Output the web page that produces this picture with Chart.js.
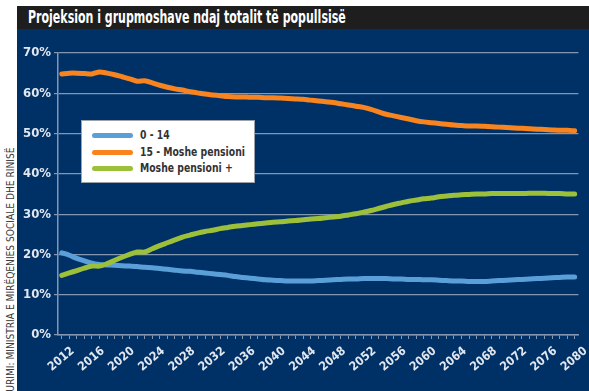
<!DOCTYPE html>
<html>
<head>
<meta charset="utf-8">
<script src="https://cdn.jsdelivr.net/npm/chart.js@4"></script>
<style>
  html, body { margin: 0; padding: 0; background: #fff; }
  #wrap { position: relative; width: 589px; height: 391px; overflow: hidden; background: #fff; }
  #titlebar {
    position: absolute; left: 17px; top: 6px; width: 572px; height: 23px;
    background: #1e1e1e; overflow: hidden;
  }
  #titlebar span {
    position: absolute; left: 11px; top: 0; line-height: 23px; white-space: nowrap;
    color: #fff; font: bold 18px 'DejaVu Sans Condensed', sans-serif;
    transform-origin: 0 50%; transform: scaleX(0.68);
  }
  #panel { position: absolute; left: 17px; top: 29px; width: 572px; height: 362px; background: #003166; }
  #source {
    position: absolute; left: 4px; top: 398px; transform-origin: 0 0; transform: rotate(-90deg) scaleX(0.92);
    white-space: nowrap; color: #3a3a3a; line-height: 13px;
    font: 11px 'DejaVu Sans Condensed', sans-serif;
  }
  #legend {
    position: absolute; left: 81px; top: 120px; width: 174px; height: 63px;
    background: #fff; border: 1px solid #9aa3ad; box-sizing: border-box;
    font: bold 12px 'DejaVu Sans Condensed', sans-serif; color: #333;
  }
  #legend .row { position: absolute; left: 0; height: 16px; line-height: 16px; white-space: nowrap; }
  #legend .sw { position: absolute; left: 10px; top: 6px; width: 41px; height: 5px; border-radius: 3px; }
  #legend .lb { position: absolute; left: 58px; top: 0; transform-origin: 0 50%; transform: scaleX(0.86); }
</style>
</head>
<body>
<div id="wrap">
  <div id="titlebar"><span>Projeksion i grupmoshave ndaj totalit të popullsisë</span></div>
  <div id="panel"><canvas id="c" width="572" height="362"></canvas></div>
  <div id="source">BURIMI: MINISTRIA E MIRËQENIES SOCIALE DHE RINISË</div>
  <div id="legend"></div>
</div>
<script>
/* ─── DATA ────────────────────────────────────────────────── */
const years = [];
for (let y = 2012; y <= 2080; y++) years.push(String(y));

const seriesNames = ['0 - 14', '15 - Moshe pensioni', 'Moshe pensioni +'];
const seriesColors = ['#5b9fd9', '#f7841f', '#9dc03a'];

const age0to14 = [
  20.4, 19.8, 19.0, 18.4, 17.8, 17.5, 17.4, 17.3, 17.2, 17.1,
  17.0, 16.8, 16.7, 16.5, 16.3, 16.1, 15.9, 15.8, 15.6, 15.4,
  15.2, 15.0, 14.8, 14.5, 14.3, 14.1, 13.9, 13.7, 13.6, 13.5,
  13.4, 13.4, 13.4, 13.4, 13.5, 13.6, 13.7, 13.8, 13.9, 13.9,
  14.0, 14.0, 14.0, 14.0, 13.9, 13.9, 13.8, 13.8, 13.7, 13.7,
  13.6, 13.5, 13.4, 13.4, 13.3, 13.3, 13.3, 13.4, 13.5, 13.6,
  13.7, 13.8, 13.9, 14.0, 14.1, 14.2, 14.3, 14.4, 14.4,
];

const age15toPension = [
  64.8, 65.0, 65.0, 64.9, 64.8, 65.3, 65.0, 64.6, 64.1, 63.6,
  63.0, 63.1, 62.6, 62.0, 61.5, 61.1, 60.8, 60.4, 60.1, 59.8,
  59.6, 59.4, 59.2, 59.1, 59.1, 59.0, 59.0, 58.9, 58.9, 58.8,
  58.7, 58.6, 58.5, 58.3, 58.1, 57.9, 57.7, 57.4, 57.1, 56.8,
  56.5, 56.0, 55.4, 54.8, 54.4, 54.0, 53.6, 53.2, 52.9, 52.7,
  52.5, 52.3, 52.1, 52.0, 51.9, 51.9, 51.8, 51.7, 51.6, 51.5,
  51.4, 51.3, 51.2, 51.1, 51.0, 50.9, 50.8, 50.8, 50.7,
];

const agePensionPlus = [
  14.8, 15.4, 16.0, 16.6, 17.1, 17.1, 17.7, 18.5, 19.3, 20.0,
  20.6, 20.6, 21.4, 22.2, 22.9, 23.6, 24.3, 24.8, 25.3, 25.7,
  26.0, 26.4, 26.7, 27.0, 27.2, 27.4, 27.6, 27.8, 28.0, 28.1,
  28.3, 28.4, 28.6, 28.8, 28.9, 29.1, 29.3, 29.5, 29.8, 30.1,
  30.5, 30.9, 31.4, 31.9, 32.4, 32.8, 33.2, 33.5, 33.8, 34.0,
  34.3, 34.5, 34.7, 34.8, 34.9, 35.0, 35.0, 35.1, 35.1, 35.1,
  35.1, 35.1, 35.2, 35.2, 35.2, 35.1, 35.1, 35.0, 35.0,
];

/* ─── LEGEND (HTML, boxed inside plot) ────────────────────── */
const legendEl = document.getElementById('legend');
seriesNames.forEach((name, i) => {
  const row = document.createElement('div');
  row.className = 'row';
  row.style.top = (6 + i * 16.7) + 'px';
  row.innerHTML = `<span class="sw" style="background:${seriesColors[i]}"></span><span class="lb">${name}</span>`;
  legendEl.appendChild(row);
});

/* ─── CHART ───────────────────────────────────────────────── */
const gridColor = '#8496b0';
const tickFont  = { family: "'DejaVu Sans Condensed', sans-serif", size: 12, weight: 'bold' };

const ds = (data, i, order) => ({
  label: seriesNames[i],
  data,
  borderColor: seriesColors[i],
  borderWidth: 5,
  pointRadius: 0,
  tension: 0.25,
  borderCapStyle: 'round',
  borderJoinStyle: 'round',
  order,
});

new Chart(document.getElementById('c'), {
  type: 'line',
  data: {
    labels: years,
    datasets: [
      ds(age0to14, 0, 2),
      ds(age15toPension, 1, 1),
      ds(agePensionPlus, 2, 0),
    ],
  },
  options: {
    responsive: false,
    animation: false,
    layout: { padding: { top: 24, right: 10, left: 0, bottom: 0 } },
    plugins: { legend: { display: false }, tooltip: { enabled: false } },
    scales: {
      x: {
        offset: true,
        afterFit: s => { s.height = 56; },
        border: { color: gridColor, width: 1.5 },
        grid: { drawOnChartArea: false, color: gridColor, tickLength: 4, lineWidth: 1 },
        ticks: {
          autoSkip: false,
          maxRotation: 40,
          minRotation: 40,
          labelOffset: 11,
          padding: 5,
          color: '#e2e7ef',
          font: tickFont,
          callback: (v, i) => (i % 4 === 0 ? years[i] : ''),
        },
      },
      y: {
        min: 0,
        max: 70,
        afterFit: s => { s.width = 41; },
        border: { color: gridColor, width: 1.5 },
        grid: { color: gridColor, lineWidth: 1.2, tickLength: 4 },
        ticks: {
          stepSize: 10,
          padding: 3,
          color: '#e2e7ef',
          font: { ...tickFont, size: 13 },
          callback: v => v + '%',
        },
      },
    },
  },
});
</script>
</body>
</html>
